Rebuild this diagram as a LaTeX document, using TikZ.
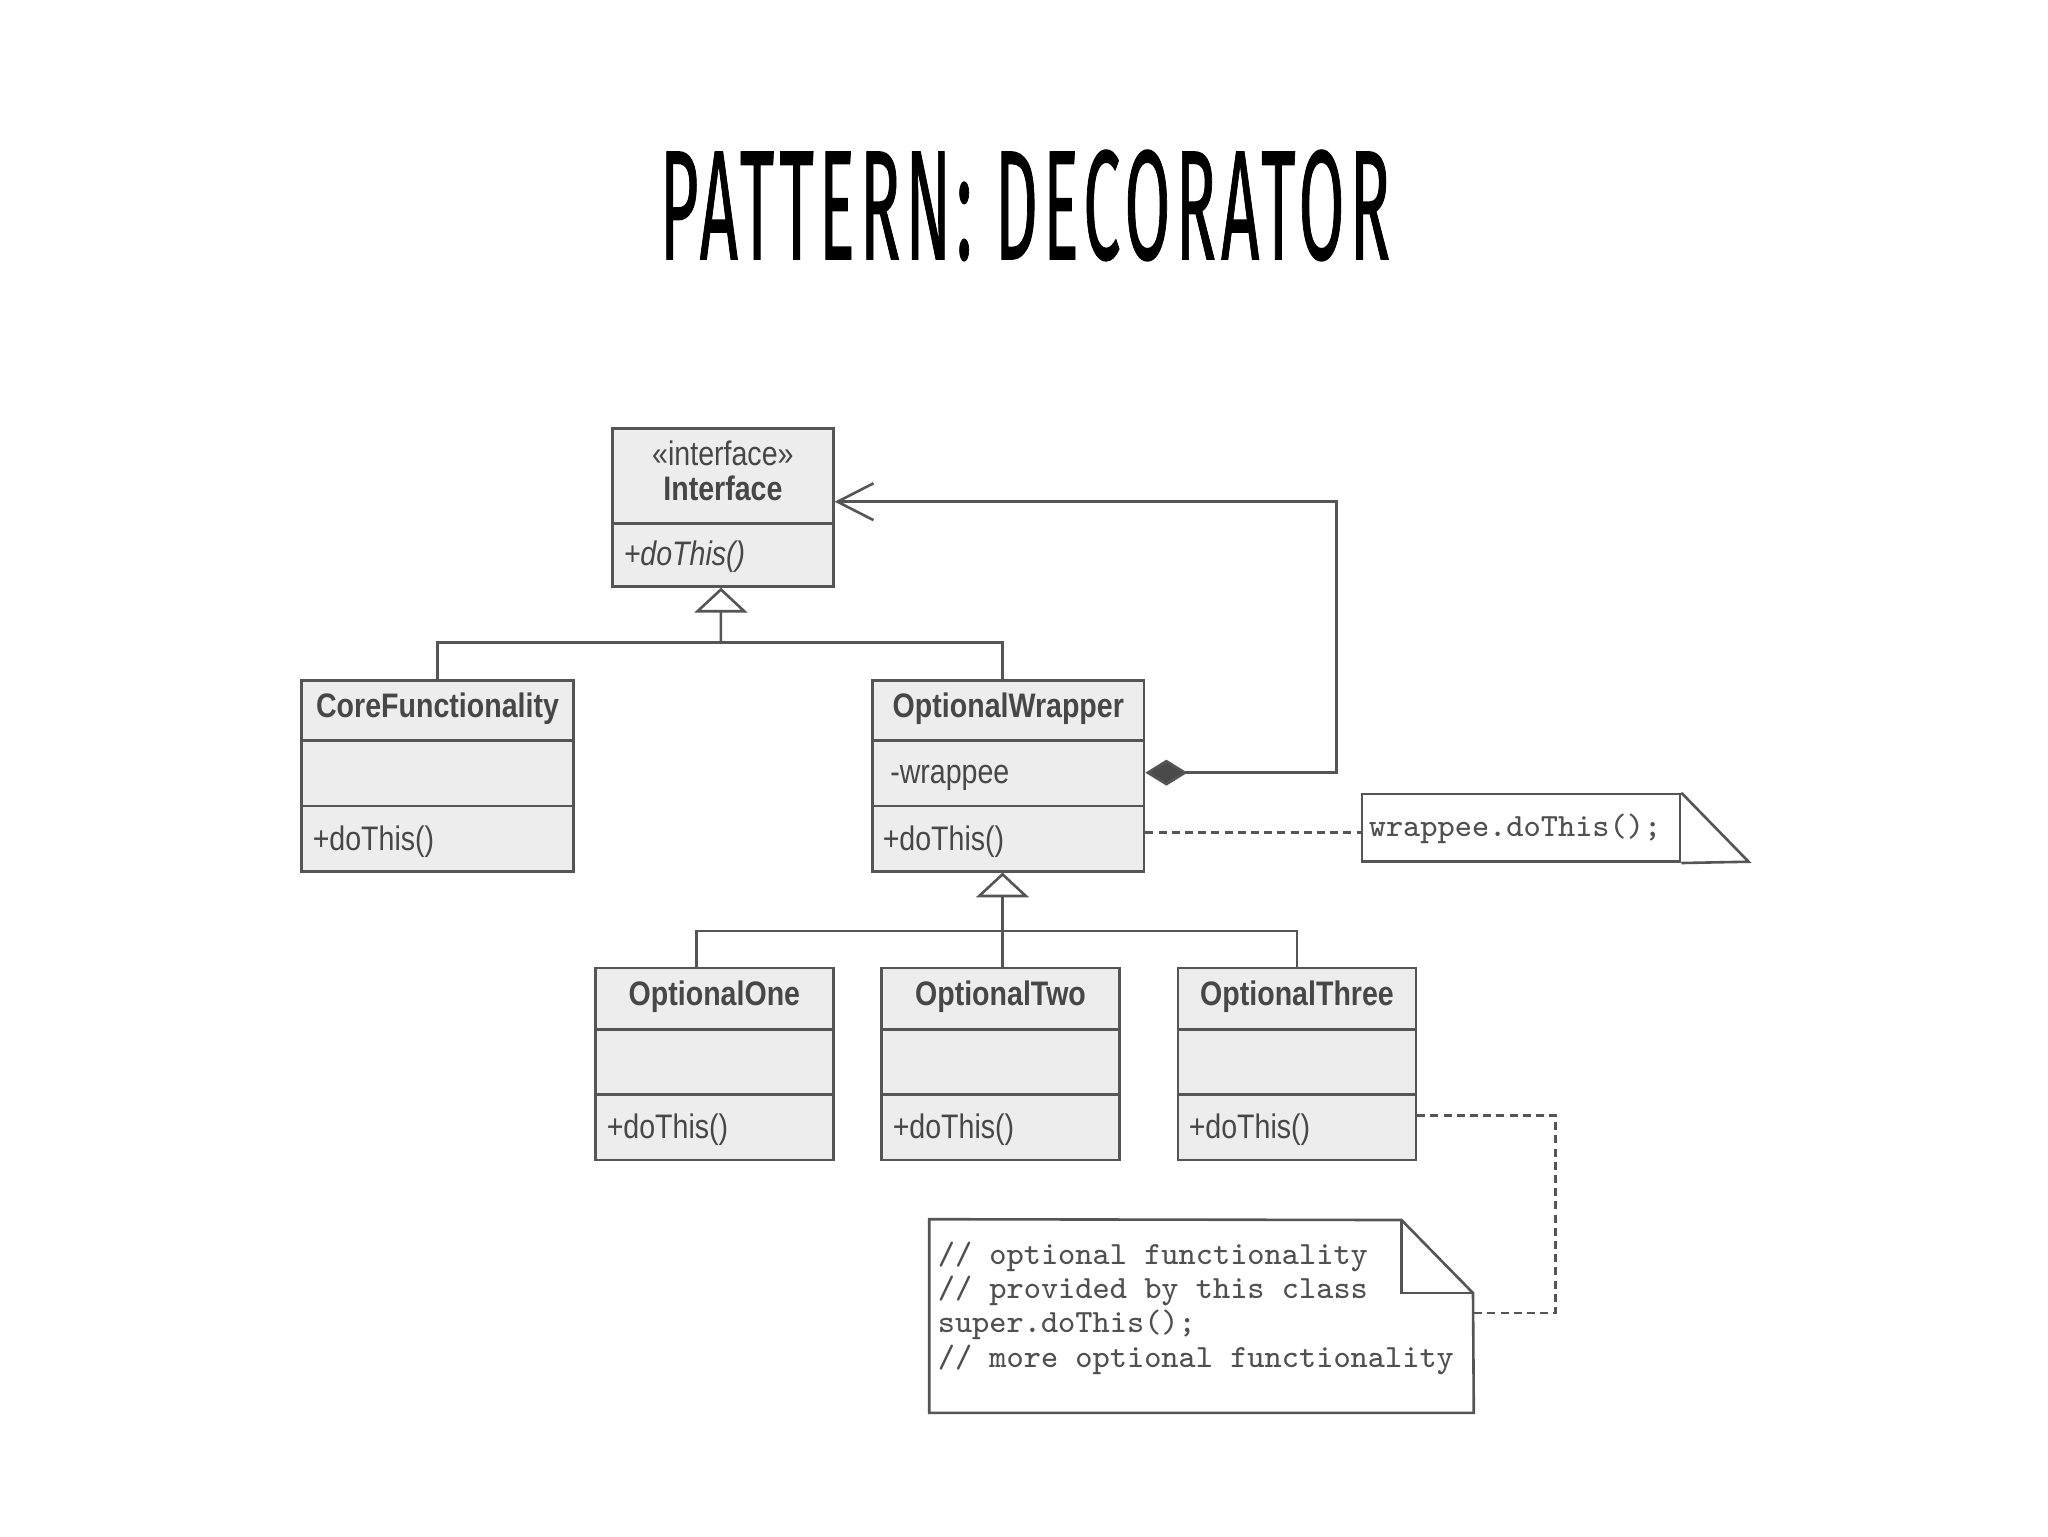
\documentclass[tikz,border=0pt]{standalone}
\usepackage{fontspec}
\usepackage{graphicx}
\usetikzlibrary{arrows.meta,calc}
\newfontfamily\umlfont{Liberation Sans}[FakeStretch=0.84]
\newfontfamily\titlefont{Fira Sans}[LetterSpace=8, FakeBold=1]
\definecolor{linegray}{HTML}{555555}
\definecolor{boxgray}{HTML}{EDEDED}
\definecolor{txtgray}{HTML}{474747}
\definecolor{codegray}{HTML}{505050}
\definecolor{diagray}{HTML}{4A4A4A}
\tikzset{
  clsbox/.style={draw=linegray, fill=boxgray, line width=0.65pt, rectangle, inner sep=0pt},
  divider/.style={draw=linegray, line width=0.65pt},
  notebox/.style={draw=linegray, fill=white, line width=0.65pt, rectangle, inner sep=0pt},
  noteline/.style={draw=linegray, line width=0.65pt, line join=miter},
  conn/.style={draw=linegray, line width=0.65pt},
  dashline/.style={draw=linegray, line width=0.65pt, dash pattern=on 2pt off 1.3pt},
  gentip/.style={-{Triangle[open, length=6.2pt, width=13.2pt, fill=white]}},
  assoctip/.style={{Diamond[length=10.5pt, width=6.5pt, fill=diagray]}-{Straight Barb[length=9pt, width=9.2pt]}},
  ctitle/.style={anchor=base, inner sep=0pt, text=txtgray, font=\umlfont\fontsize{8.5}{10}\selectfont\bfseries},
  cmember/.style={anchor=base west, inner sep=0pt, text=txtgray, font=\umlfont\fontsize{8.5}{10}\selectfont},
  codetxt/.style={anchor=base west, inner sep=0pt, text=codegray, font=\ttfamily\fontsize{8.1}{9.7}\selectfont},
}
\newcommand\classbox[5]{%
  \node[clsbox, minimum width={(#4-#2)*0.25pt}, minimum height={(#5-#3)*0.25pt}] (#1) at ({(#2+#4)/2},{(#3+#5)/2}) {};}
\begin{document}
\begin{tikzpicture}[x=0.25pt,y=-0.25pt]
\fill[white] (0,0) rectangle (2048,1536);
\useasboundingbox (0,0) rectangle (2048,1536);

% title
\node[anchor=base, inner sep=0pt] (title) at (1025,259)
  {\resizebox{182.5pt}{27.25pt}{\titlefont PATTERN: DECORATOR}};

% Interface
\classbox{iface}{612.6}{428.4}{833.3}{586.4}
\draw[divider] (612.6,523.7) -- (833.3,523.7);
\node[ctitle, font=\umlfont\fontsize{8.5}{10}\selectfont] (ifacest) at (722.9,465.5) {«interface»};
\node[ctitle] (ifacename) at (722.9,500.7) {Interface};
\node[cmember, font=\umlfont\fontsize{8.5}{10}\selectfont\itshape] (ifacem) at (623,565.5) {+doThis()};

% CoreFunctionality
\classbox{core}{301.7}{680.5}{573.4}{871.2}
\draw[divider] (301.7,740.5) -- (573.4,740.5);
\draw[divider] (301.7,805.9) -- (573.4,805.9);
\node[ctitle] (corename) at (437.5,717) {CoreFunctionality};
\node[cmember] (corem) at (312,850) {+doThis()};

% OptionalWrapper
\classbox{wrapper}{872.5}{680.5}{1144.1}{871.2}
\draw[divider] (872.5,740.5) -- (1144.1,740.5);
\draw[divider] (872.5,805.9) -- (1144.1,805.9);
\node[ctitle] (wrappername) at (1008.3,717) {OptionalWrapper};
\node[cmember] (wrappera) at (889.5,783.5) {-wrappee};
\node[cmember] (wrapperm) at (882,850) {+doThis()};

% OptionalOne / Two / Three
\classbox{one}{595.6}{967.8}{833.3}{1159.8}
\draw[divider] (595.6,1029.2) -- (833.3,1029.2);
\draw[divider] (595.6,1094.5) -- (833.3,1094.5);
\node[ctitle] (onename) at (714.4,1005) {OptionalOne};
\node[cmember] (onem) at (606,1138.5) {+doThis()};

\classbox{two}{881.6}{967.8}{1119.3}{1159.8}
\draw[divider] (881.6,1029.2) -- (1119.3,1029.2);
\draw[divider] (881.6,1094.5) -- (1119.3,1094.5);
\node[ctitle] (twoname) at (1000.5,1005) {OptionalTwo};
\node[cmember] (twom) at (892,1138.5) {+doThis()};

\classbox{three}{1178}{967.8}{1415.8}{1159.8}
\draw[divider] (1178,1029.2) -- (1415.8,1029.2);
\draw[divider] (1178,1094.5) -- (1415.8,1094.5);
\node[ctitle] (threename) at (1297,1005) {OptionalThree};
\node[cmember] (threem) at (1188,1138.5) {+doThis()};

% generalization 1
\coordinate (bus1) at (720.9,642.3);
\draw[conn] (core.north) |- (bus1);
\draw[conn] ([xshift=-1.4pt]wrapper.north) |- (bus1);
\draw[conn, gentip] (bus1) -- ([xshift=-0.5pt]iface.south);

% generalization 2
\coordinate (bus2) at (1002.5,931);
\draw[conn] ([xshift=-4.5pt]one.north) |- (bus2);
\draw[conn] ([xshift=0.5pt]two.north) |- (bus2);
\draw[conn] (three.north) |- (bus2);
\draw[conn, gentip] (bus2) -- ([xshift=-1.45pt]wrapper.south);

% association (composition)
\coordinate (acorner) at (1336.3,501.7);
\draw[conn, assoctip] ([yshift=0.8pt]wrapper.east) -| (acorner) -- (iface.east |- acorner);

% note 1
\node[notebox, minimum width={(1680-1362)*0.25pt}, minimum height={(861.7-794)*0.25pt}] (note1) at ({(1362+1680)/2},{(794+861.7)/2}) {};
\draw[noteline] (note1.north east) -- (1748.6,861.7) -- (note1.south east);
\node[codetxt] (note1txt) at (1368,836) {wrappee.doThis();};
\coordinate (n1in) at ([yshift=-1.2pt]note1.west);
\draw[dashline] (wrapper.east |- n1in) -- (n1in);

% note 2
\node[inner sep=0pt, minimum width={(1473-930)*0.25pt}, minimum height={(1412-1220)*0.25pt}] (note2) at ({(930+1473)/2},{(1220+1412)/2}) {};
\draw[noteline, fill=white] (note2.south west) -- (note2.north west) -- (1401.5,1220) -- (1473,1293) -- (note2.south east) -- cycle;
\draw[noteline] (1401.5,1220) -- (1401.5,1293) -- (1473,1293);
\node[codetxt] (n2l1) at (937,1264) {// optional functionality};
\node[codetxt] (n2l2) at (937,1298) {// provided by this class};
\node[codetxt] (n2l3) at (937,1332) {super.doThis();};
\node[codetxt] (n2l4) at (937,1367) {// more optional functionality};
\coordinate (d2a) at (1555.6,1115.5);
\coordinate (d2b) at (1555.6,1312.8);
\draw[dashline] (three.east |- d2a) -- (d2a) -- (d2b) -- (note2.east |- d2b);
\end{tikzpicture}
\end{document}
